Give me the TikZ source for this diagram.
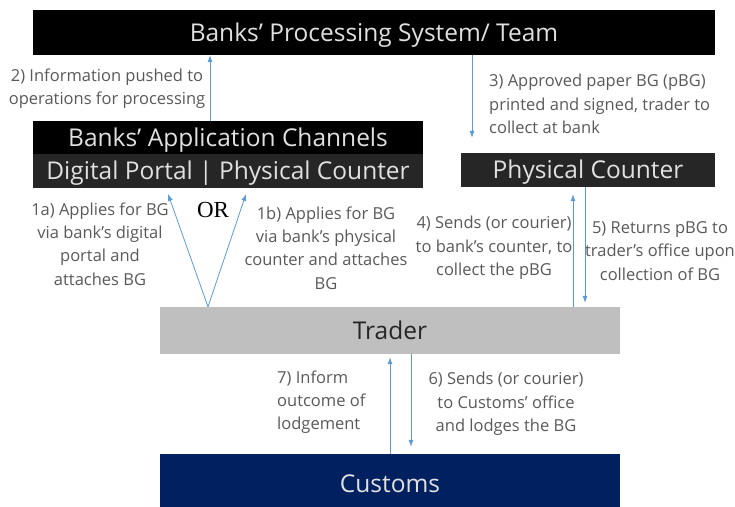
\documentclass[tikz,border=0pt]{standalone}
\usepackage{fontspec}
\setmainfont{Open Sans}
\newfontfamily\orfont{Liberation Serif}
\usetikzlibrary{arrows.meta}

\definecolor{arrowblue}{HTML}{5B9BD5}
\definecolor{darkbox}{HTML}{262626}
\definecolor{traderfill}{HTML}{BFBFBF}
\definecolor{customsfill}{HTML}{002060}
\definecolor{labelgray}{HTML}{595959}

\begin{document}
\begin{tikzpicture}[x=1pt,y=-1pt,
      box/.style={draw=none, inner sep=0pt, text height=17.5pt, text depth=0pt,
                  font=\fontsize{24.5}{26}\selectfont},
      darkbx/.style={box, fill=black, text=white!88!black},
      flow/.style={draw=arrowblue, line width=0.8pt, -{Latex[length=7pt,width=5pt]}},
      lbl/.style={align=center, text=labelgray, font=\fontsize{16.5}{23.3}\selectfont, inner sep=0pt}]
    \useasboundingbox (0,0) rectangle (735,506);

    % draw boxes
    \node[darkbx, minimum width=682pt, minimum height=45pt] (bank) at (374,32.5) {Banks' Processing System/ Team};
    \node[darkbx, minimum width=390pt, minimum height=33pt] (chan) at (228,137.5) {Banks' Application Channels};
    \node[darkbx, fill=darkbox, minimum width=390pt, minimum height=34pt] (chanbot) at (228,171) {Digital Portal | Physical Counter};
    \node[darkbx, fill=darkbox, minimum width=254pt, minimum height=34pt] (phys) at (588,170) {Physical Counter};
    \node[box, fill=traderfill, text=darkbox, minimum width=460pt, minimum height=47pt] (trader) at (390,330.5) {Trader};
    \node[box, fill=customsfill, text=white!88!black, minimum width=460pt, minimum height=60pt] (customs) at (390,484) {Customs};

    % draw arrows
    \draw[flow] ([xshift=-18pt]chan.north) -- ([xshift=-18pt]chan.north |- bank.south);
    \draw[flow, shorten >=15pt] ([xshift=98pt]bank.south) -- ([xshift=98pt]bank.south |- phys.north);
    \coordinate (split) at ([xshift=-182pt]trader.north);
    \draw[flow, shorten >=6pt] (split) -- ([xshift=-62pt]chanbot.south);
    \draw[flow, shorten >=6pt] (split) -- ([xshift=20pt]chanbot.south);
    \draw[flow, shorten >=7pt] ([xshift=-15pt]phys.south |- trader.north) -- ([xshift=-15pt]phys.south);
    \draw[flow, shorten >=4pt] ([xshift=-3pt]phys.south) -- ([xshift=-3pt]phys.south |- trader.north);
    \draw[flow, shorten >=3pt] (customs.north) -- (trader.south);
    \draw[flow, shorten >=7pt] ([xshift=21pt]trader.south) -- ([xshift=21pt]trader.south |- customs.north);

    % labels
    \node[lbl] (l2) at (107,89) {2) Information pushed to\\operations for processing};
    \node[lbl, align=left, anchor=west] (l3) at (489,104) {3) Approved paper BG (pBG)\\printed and signed, trader to\\collect at bank};
    \node[lbl] (l1a) at (100,244) {1a) Applies for BG\\via bank's digital\\portal and\\attaches BG};
    \node[font=\orfont\fontsize{23}{25}\selectfont, inner sep=0pt] (or) at (213,210) {OR};
    \node[lbl] (l1b) at (326,248) {1b) Applies for BG\\via bank's physical\\counter and attaches\\BG};
    \node[lbl] (l4) at (494,248) {4) Sends (or courier)\\to bank's counter, to\\collect the pBG};
    \node[lbl] (l5) at (660,251) {5) Returns pBG to\\trader's office upon\\collection of BG};
    \node[lbl, align=left, anchor=west] (l7) at (277,402) {7) Inform\\outcome of\\lodgement};
    \node[lbl] (l6) at (506,404) {6) Sends (or courier)\\to Customs' office\\and lodges the BG};
\end{tikzpicture}
\end{document}
